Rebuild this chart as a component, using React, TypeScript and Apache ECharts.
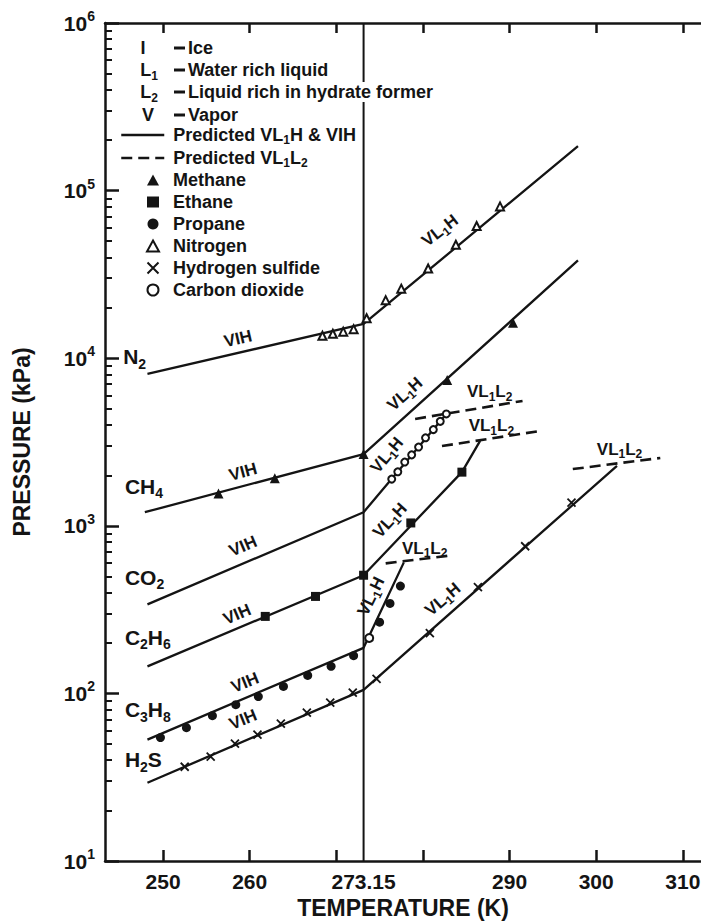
import React, { useEffect, useRef } from "react";
import * as echarts from "echarts";

const FONT = "'Liberation Sans', Arial, Helvetica, sans-serif";
const INK = "#141414";

// ---- axes ----
const xRange = [243.3, 312.1];
const yRange = [10, 1000000];
const xTickValues = [250, 260, 270, 280, 290, 300, 310];
const xLabelValues = [250, 260, 273.15, 290, 300, 310];
const yMinorTickValues = [
  20, 30, 40, 50, 60, 70, 80, 90,
  200, 300, 400, 500, 600, 700, 800, 900,
  2000, 3000, 4000, 5000, 6000, 7000, 8000, 9000,
  20000, 30000, 40000, 50000, 60000, 70000, 80000, 90000,
  200000, 300000, 400000, 500000, 600000, 700000, 800000, 900000,
];
const xAxisTitle = "TEMPERATURE (K)";
const yAxisTitle = "PRESSURE (kPa)";
const iceLine = [[273.15, 10], [273.15, 1000000]];

// ---- predicted VL1H & VIH curves [T (K), P (kPa)] ----
const n2Curve = [[248.2, 8070], [273.15, 16000], [297.9, 184000]];
const ch4Curve = [[247.9, 1205], [273.15, 2680], [297.9, 38300]];
const co2Curve = [[248.2, 340], [273.15, 1205], [282.8, 4710]];
const c2h6Curve = [[248.2, 145], [273.15, 507], [284.5, 2090], [286.6, 3210]];
const c3h8Curve = [[248.2, 53], [273.15, 187], [277.8, 605]];
const h2sCurve = [[248.2, 29.3], [273.15, 105], [302.4, 2280]];

// ---- predicted VL1L2 curves ----
const co2L1L2 = [[279.1, 4340], [291.5, 5560]];
const c2h6L1L2 = [[282.2, 2990], [293.5, 3680]];
const c3h8L1L2 = [[275.7, 597], [283.4, 667]];
const h2sL1L2 = [[297.3, 2180], [307.4, 2540]];

// ---- experimental points ----
const methanePts = [[256.4, 1560], [262.9, 1920], [273.15, 2680], [282.8, 7400], [290.4, 16300]];
const ethanePts = [[261.8, 288], [267.6, 379], [273.15, 507], [278.6, 1040], [284.5, 2090]];
const propanePts = [
  [249.7, 54.5], [252.7, 62.4], [255.7, 73.6], [258.4, 85.7], [261.0, 95.7],
  [263.9, 110], [266.7, 128], [269.4, 145], [272.0, 168],
  [275.0, 266], [276.2, 344], [277.4, 437],
];
const nitrogenPts = [
  [268.4, 13600], [269.6, 14000], [270.8, 14400], [272.0, 14900],
  [273.5, 17300], [275.7, 22200], [277.5, 26000], [280.6, 34300],
  [283.8, 47500], [286.2, 61500], [288.9, 80500],
];
const h2sPts = [
  [252.5, 36.5], [255.5, 41.9], [258.3, 50.1], [260.9, 56.7], [263.6, 66],
  [266.6, 76.7], [269.3, 88.1], [271.9, 101], [274.65, 122], [280.8, 229],
  [286.35, 430], [291.8, 755], [297.15, 1377],
];
const co2Pts = [
  [276.4, 1900], [277.1, 2100], [277.9, 2400], [278.7, 2650], [279.5, 2950],
  [280.3, 3350], [281.2, 3750], [282.0, 4200], [282.7, 4650],
];
const quadPointPts = [[273.8, 214]];

// ---- in-plot labels [T, P, text, rotation] ----
const phaseLabels: [number, number, string, number][] = [
  [281.96, 57800, "VL{s|1}H", 38],
  [277.92, 6120, "VL{s|1}H", 42],
  [275.85, 2640, "VL{s|1}H", 50],
  [276.19, 1079, "VL{s|1}H", 47],
  [274.0, 379, "VL{s|1}H", 64],
  [282.3, 364, "VL{s|1}H", 41],
  [287.7, 6290, "VL{s|1}L{s|2}", 0],
  [287.9, 3945, "VL{s|1}L{s|2}", 0],
  [280.2, 735, "VL{s|1}L{s|2}", 0],
  [302.7, 2870, "VL{s|1}L{s|2}", 0],
  [258.65, 13060, "VIH", 13],
  [259.23, 2094, "VIH", 15],
  [259.23, 755, "VIH", 23],
  [258.54, 296, "VIH", 23],
  [259.46, 116, "VIH", 22],
  [259.23, 69.7, "VIH", 22],
];
const gasLabels: [number, number, string][] = [
  [245.4, 10190, "N{s|2}"],
  [245.6, 1726, "CH{s|4}"],
  [245.6, 493, "CO{s|2}"],
  [245.6, 216, "C{s|2}H{s|6}"],
  [245.6, 80, "C{s|3}H{s|8}"],
  [245.6, 40.2, "H{s|2}S"],
];

// ---- key (top rows) ----
const keySymbols = ["I", "L{s|1}", "L{s|2}", "V"];
const keyTexts = ["Ice", "Water rich liquid", "Liquid rich in hydrate former", "Vapor"];
const lineLegendNames = ["Predicted VL1H & VIH", "Predicted VL1L2"];
const markerLegendNames = ["Methane", "Ethane", "Propane", "Nitrogen", "Hydrogen sulfide", "Carbon dioxide"];

const subStyle = (size: number, weight: string) => ({
  fontSize: size,
  lineHeight: size,
  verticalAlign: "bottom",
  fontFamily: FONT,
  fontWeight: weight,
  color: INK,
  fill: INK,
});

function curve(name: string, data: number[][], dashed: boolean) {
  return {
    type: "line",
    name,
    data,
    symbol: "none",
    showSymbol: false,
    silent: true,
    z: 3,
    lineStyle: { color: INK, width: dashed ? 2.6 : 2.3, type: dashed ? [11, 6] : "solid" },
    itemStyle: { color: INK },
  };
}

function markers(name: string, data: number[][], symbol: string, size: number, empty: boolean) {
  return {
    type: "scatter",
    name,
    data,
    symbol,
    symbolSize: size,
    symbolKeepAspect: true,
    silent: true,
    z: 5,
    itemStyle: empty
      ? { color: INK, borderColor: INK, borderWidth: 1.5, opacity: 1 }
      : { color: INK, borderWidth: 0, opacity: 1 },
  };
}

function buildOption() {
  const axisLine = { show: true, onZero: false, lineStyle: { color: INK, width: 2.5 } };
  const keyGraphics: any[] = [];
  const keyY = [48, 70, 92, 115];
  const keySymbolX = [143, 149, 149, 148];
  keyY.forEach((y, i) => {
    keyGraphics.push({
      type: "text",
      x: keySymbolX[i],
      y,
      z: 10,
      style: {
        text: keySymbols[i],
        align: "center",
        verticalAlign: "middle",
        fontSize: 18,
        fontWeight: "bold",
        fontFamily: FONT,
        fill: INK,
        lineHeight: 24,
        rich: { s: subStyle(12, "bold") },
      },
    });
    keyGraphics.push({
      type: "rect",
      z: 10,
      shape: { x: 174, y: y - 1.5, width: 11, height: 3 },
      style: { fill: INK },
    });
    keyGraphics.push({
      type: "text",
      x: 188,
      y,
      z: 10,
      style: {
        text: keyTexts[i],
        align: "left",
        verticalAlign: "middle",
        fontSize: 18,
        fontWeight: "bold",
        fontFamily: FONT,
        fill: INK,
        backgroundColor: "#fff",
        padding: [1, 3, 1, 0],
      },
    });
  });

  return {
    animation: false,
    backgroundColor: "#fff",
    textStyle: { fontFamily: FONT, color: INK },
    grid: { left: 105, right: 0, top: 23, bottom: 61, outerBoundsMode: "none", containLabel: false },
    legend: [
      {
        data: lineLegendNames,
        orient: "vertical",
        left: 120,
        top: 124,
        padding: 0,
        itemWidth: 43,
        itemHeight: 14,
        itemGap: 1,
        selectedMode: false,
        itemStyle: { opacity: 0 },
        lineStyle: { color: INK, width: 2.5 },
        formatter: (n: string) => (n === lineLegendNames[0] ? "Predicted VL{s|1}H & VIH" : "Predicted VL{s|1}L{s|2}"),
        textStyle: {
          color: INK,
          fontSize: 18,
          fontWeight: "bold",
          fontFamily: FONT,
          lineHeight: 22,
          backgroundColor: "#fff",
          padding: [0, 2, 0, 4],
          rich: { s: subStyle(12, "bold") },
        },
      },
      {
        data: markerLegendNames,
        orient: "vertical",
        left: 146,
        top: 170,
        padding: 0,
        itemWidth: 12,
        itemHeight: 11,
        itemGap: 2,
        selectedMode: false,
        textStyle: {
          color: INK,
          fontSize: 18,
          fontWeight: "bold",
          fontFamily: FONT,
          lineHeight: 20,
          padding: [0, 0, 0, 9],
        },
      },
    ],
    xAxis: [
      {
        type: "value",
        position: "bottom",
        min: xRange[0],
        max: xRange[1],
        axisLine,
        axisTick: { show: true, inside: true, length: 11, customValues: xTickValues, lineStyle: { color: INK, width: 2.5 } },
        axisLabel: {
          customValues: xLabelValues,
          margin: 10,
          color: INK,
          fontSize: 21,
          fontWeight: "bold",
          fontFamily: FONT,
          formatter: (v: number) => String(v),
        },
        splitLine: { show: false },
        name: xAxisTitle,
        nameLocation: "middle",
        nameGap: 34,
        nameTextStyle: { color: INK, fontSize: 23, fontWeight: "bold", fontFamily: FONT },
      },
      {
        type: "value",
        position: "top",
        min: xRange[0],
        max: xRange[1],
        axisLine,
        axisTick: { show: true, inside: true, length: 10, customValues: xTickValues, lineStyle: { color: INK, width: 2.5 } },
        axisLabel: { show: false },
        splitLine: { show: false },
      },
    ],
    yAxis: [
      {
        type: "log",
        logBase: 10,
        position: "left",
        min: yRange[0],
        max: yRange[1],
        axisLine,
        axisTick: { show: true, inside: true, length: 14, lineStyle: { color: INK, width: 2.5 } },
        axisLabel: {
          margin: 10,
          color: INK,
          formatter: (v: number) => `{b|10}{p|${Math.round(Math.log10(v))}}`,
          rich: {
            b: { fontSize: 21, fontWeight: "bold", fontFamily: FONT, color: INK, lineHeight: 28 },
            p: { fontSize: 14, fontWeight: "bold", fontFamily: FONT, color: INK, lineHeight: 14, verticalAlign: "top" },
          },
        },
        splitLine: { show: false },
        minorTick: { show: false },
        name: yAxisTitle,
        nameLocation: "middle",
        nameRotate: 90,
        nameGap: 72,
        nameTextStyle: { color: INK, fontSize: 23, fontWeight: "bold", fontFamily: FONT },
      },
      {
        type: "log",
        logBase: 10,
        position: "left",
        min: yRange[0],
        max: yRange[1],
        axisLine: { show: false },
        axisTick: { show: true, inside: true, length: 7, customValues: yMinorTickValues, lineStyle: { color: INK, width: 2 } },
        axisLabel: { show: false },
        splitLine: { show: false },
      },
    ],
    graphic: keyGraphics,
    series: [
      {
        type: "line",
        data: iceLine,
        symbol: "none",
        silent: true,
        z: 2,
        lineStyle: { color: INK, width: 2 },
      },
      curve(lineLegendNames[0], n2Curve, false),
      curve(lineLegendNames[0], ch4Curve, false),
      curve(lineLegendNames[0], co2Curve, false),
      curve(lineLegendNames[0], c2h6Curve, false),
      curve(lineLegendNames[0], c3h8Curve, false),
      curve(lineLegendNames[0], h2sCurve, false),
      curve(lineLegendNames[1], co2L1L2, true),
      curve(lineLegendNames[1], c2h6L1L2, true),
      curve(lineLegendNames[1], c3h8L1L2, true),
      curve(lineLegendNames[1], h2sL1L2, true),
      markers("Methane", methanePts, "triangle", 10, false),
      markers("Ethane", ethanePts, "rect", 9, false),
      markers("Propane", propanePts, "circle", 9, false),
      markers("Nitrogen", nitrogenPts, "emptyTriangle", 8, true),
      {
        type: "scatter",
        name: "Hydrogen sulfide",
        data: h2sPts,
        symbol: "path://M0,0L10,10M10,0L0,10",
        symbolSize: 8,
        symbolKeepAspect: true,
        silent: true,
        z: 5,
        itemStyle: { color: "rgba(0,0,0,0)", borderColor: INK, borderWidth: 1.8, opacity: 1 },
      },
      markers("Carbon dioxide", co2Pts, "emptyCircle", 7, true),
      markers("Q1", quadPointPts, "emptyCircle", 8, true),
      {
        type: "scatter",
        name: "phase labels",
        data: phaseLabels.map(([x, y, t, r]) => ({ value: [x, y], name: t, label: { rotate: r } })),
        symbol: "circle",
        symbolSize: 0,
        silent: true,
        z: 6,
        itemStyle: { color: "rgba(0,0,0,0)", opacity: 1 },
        label: {
          show: true,
          position: "inside",
          formatter: (p: any) => p.name,
          color: INK,
          opacity: 1,
          fontSize: 17,
          fontFamily: FONT,
          fontWeight: "bold",
          lineHeight: 22,
          rich: { s: subStyle(12, "bold") },
        },
      },
      {
        type: "scatter",
        name: "gas labels",
        data: gasLabels.map(([x, y, t]) => ({ value: [x, y], name: t })),
        symbol: "circle",
        symbolSize: 0,
        silent: true,
        z: 6,
        itemStyle: { color: "rgba(0,0,0,0)", opacity: 1 },
        label: {
          show: true,
          position: "inside",
          align: "left",
          formatter: (p: any) => p.name,
          color: INK,
          opacity: 1,
          fontSize: 21,
          fontFamily: FONT,
          fontWeight: "bold",
          lineHeight: 28,
          rich: { s: subStyle(14, "bold") },
        },
      },
    ],
  };
}

export default function App() {
  const ref = useRef<HTMLDivElement>(null);
  useEffect(() => {
    if (!ref.current) return;
    const chart = echarts.init(ref.current, null, { renderer: "svg" });
    chart.setOption(buildOption() as any);
    return () => chart.dispose();
  }, []);
  return (
    <div
      ref={ref}
      style={{ position: "fixed", left: 0, top: 0, width: 701, height: 922, background: "#fff" }}
    />
  );
}
